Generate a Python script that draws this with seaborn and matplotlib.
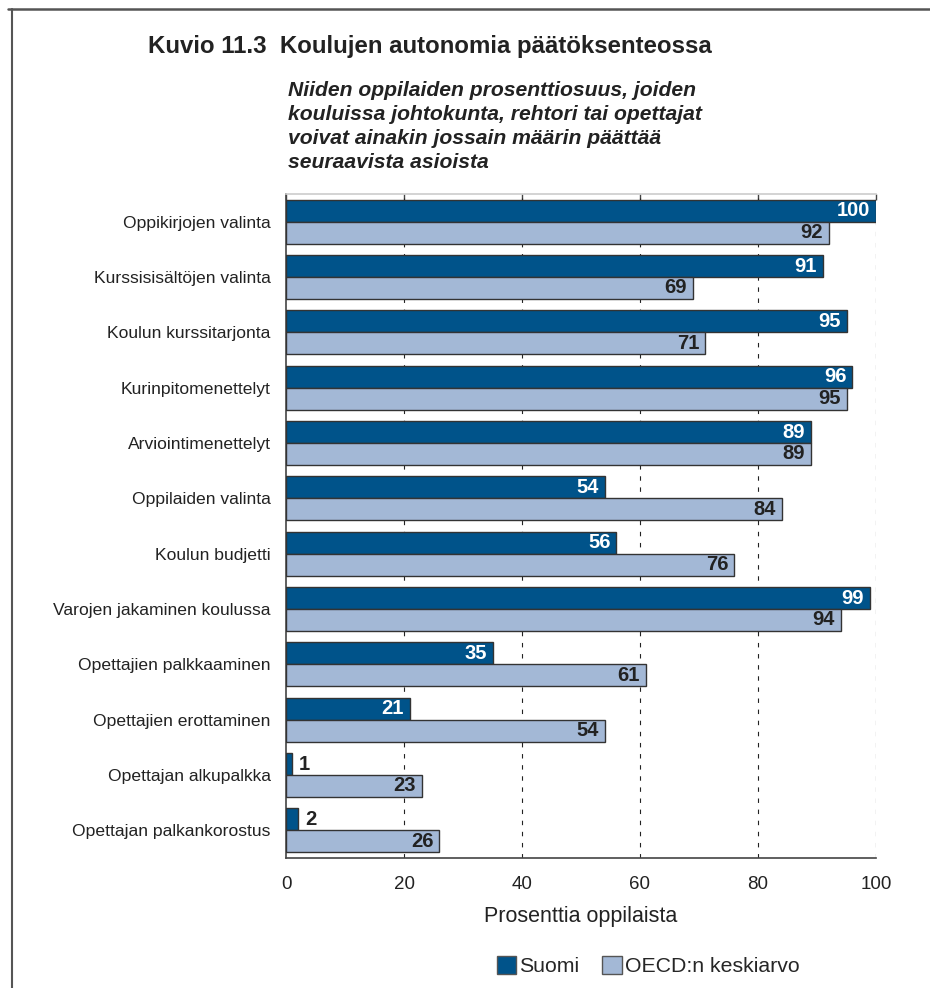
import matplotlib
matplotlib.use("Agg")
import matplotlib.pyplot as plt
from matplotlib.lines import Line2D
from matplotlib.patches import Patch
import seaborn as sns
import pandas as pd

categories = [
    "Oppikirjojen valinta",
    "Kurssisisältöjen valinta",
    "Koulun kurssitarjonta",
    "Kurinpitomenettelyt",
    "Arviointimenettelyt",
    "Oppilaiden valinta",
    "Koulun budjetti",
    "Varojen jakaminen koulussa",
    "Opettajien palkkaaminen",
    "Opettajien erottaminen",
    "Opettajan alkupalkka",
    "Opettajan palkankorostus",
]
suomi = [100, 91, 95, 96, 89, 54, 56, 99, 35, 21, 1, 2]
oecd = [92, 69, 71, 95, 89, 84, 76, 94, 61, 54, 23, 26]
series_names = ["Suomi", "OECD:n keskiarvo"]
x_ticks = [0, 20, 40, 60, 80, 100]

title = "Kuvio 11.3  Koulujen autonomia päätöksenteossa"
subtitle = ("Niiden oppilaiden prosenttiosuus, joiden\n"
            "kouluissa johtokunta, rehtori tai opettajat\n"
            "voivat ainakin jossain määrin päättää\n"
            "seuraavista asioista")
xlabel = "Prosenttia oppilaista"

dark = "#00538A"
light = "#A3B8D6"

df = pd.DataFrame({
    "cat": categories * 2,
    "val": suomi + oecd,
    "series": [series_names[0]] * len(categories) + [series_names[1]] * len(categories),
})

sns.set_theme(style="white")
plt.rcParams["font.family"] = ["Liberation Sans", "DejaVu Sans"]

fig = plt.figure(figsize=(9.3, 9.88), dpi=100)
ax = fig.add_axes([286 / 930, 1 - 858 / 988, 590 / 930, 664 / 988])

sns.barplot(data=df, y="cat", x="val", hue="series", orient="h",
            palette=[dark, light], saturation=1, width=0.79, edgecolor="#333333",
            linewidth=1.0, ax=ax, legend=False, zorder=3)

ax.set_xlim(0, 100)
ax.set_ylim(len(categories) - 0.5, -0.5)
ax.set_xticks(x_ticks)
ax.set_xticklabels([str(t) for t in x_ticks], fontsize=13.5, color="#222222")
ax.set_xlabel(xlabel, fontsize=15.5, color="#222222", labelpad=9)
ax.set_ylabel("")
ax.set_yticks(range(len(categories)))
ax.set_yticklabels(categories, fontsize=12.6, color="#222222")
ax.set_yticks([i - 0.5 for i in range(len(categories) + 1)], minor=True)
ax.tick_params(axis="y", which="major", length=0, pad=11)
ax.tick_params(axis="y", which="minor", length=5, width=1, color="#444444", direction="out")
ax.tick_params(axis="x", which="major", length=5, width=1, color="#444444", direction="out", pad=8)

for x in x_ticks[1:]:
    ax.axvline(x, color="#222222", linestyle=(0, (4, 6)), linewidth=0.8, zorder=1)

for s in ["left", "bottom"]:
    ax.spines[s].set_color("#444444")
    ax.spines[s].set_linewidth(1.2)
ax.spines["top"].set_color("#cccccc")
ax.spines["top"].set_linewidth(1.2)
ax.spines["right"].set_visible(False)

sec = ax.secondary_xaxis("top")
sec.set_xticks(x_ticks)
sec.tick_params(direction="in", length=4, width=1, color="#444444", labeltop=False)
sec.spines["top"].set_visible(False)

# value labels
for cont, vals, col in zip(ax.containers, [suomi, oecd], ["white", "#222222"]):
    for patch, v in zip(cont.patches, vals):
        yc = patch.get_y() + patch.get_height() / 2
        if v >= 10:
            ax.text(v - 1.0, yc, str(v), ha="right", va="center", color=col,
                    fontsize=14.5, fontweight="bold", zorder=5)
        else:
            ax.text(v + 1.2, yc, str(v), ha="left", va="center", color="#222222",
                    fontsize=14.5, fontweight="bold", zorder=5)

fig.text(148 / 930, 1 - 47 / 988, title, fontsize=17.3, fontweight="bold",
         color="#222222", ha="left", va="center")
fig.text(288 / 930, 1 - 81 / 988, subtitle, fontsize=15.2, fontweight="bold",
         fontstyle="italic", color="#222222", ha="left", va="top", linespacing=1.34)

handles = [Patch(facecolor=dark, edgecolor="#555555"),
           Patch(facecolor=light, edgecolor="#555555")]
fig.legend(handles, series_names, loc="center", bbox_to_anchor=(648 / 930, 1 - 966 / 988),
           ncol=2, frameon=False, fontsize=15.3, handlelength=0.9, handleheight=0.9,
           handletextpad=0.15, columnspacing=1.1, borderaxespad=0)

fig.add_artist(Line2D([8 / 930, 1], [1 - 9.5 / 988] * 2, transform=fig.transFigure,
                      color="#555555", linewidth=1.8))
fig.add_artist(Line2D([11.5 / 930] * 2, [0, 1 - 9.5 / 988], transform=fig.transFigure,
                      color="#555555", linewidth=1.5))

fig.savefig("out.png", dpi=100)
